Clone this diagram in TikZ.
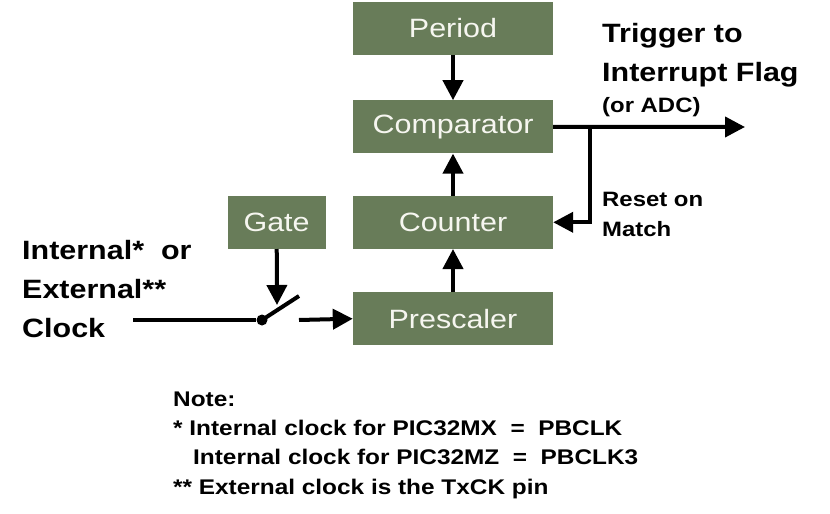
\documentclass[tikz,border=0pt]{standalone}
\usepackage{fontspec}
\setmainfont{Liberation Sans}[FakeStretch=1.15]
\usetikzlibrary{positioning, arrows.meta}

\definecolor{boxgreen}{RGB}{104,124,89}
\definecolor{boxtext}{RGB}{246,246,240}

\begin{document}
\begin{tikzpicture}[x=1pt, y=-1pt,
    % Define styles for the timer blocks
    block/.style={rectangle, fill=boxgreen, text=boxtext, minimum width=200pt, minimum height=53pt, inner sep=0pt, font=\fontsize{26.5}{30}\selectfont},
    % Define styles for the free texts
    big_txt/.style={align=left, anchor=west, inner sep=0pt, font=\bfseries\fontsize{26.5}{39}\selectfont},
    small_txt/.style={align=left, anchor=west, inner sep=0pt, font=\bfseries\fontsize{20.8}{30}\selectfont},
    % Define connector styles
    wire/.style={draw=black, line width=4pt},
    flow/.style={wire, -{Triangle[length=20pt,width=20pt]}}
]

    % --- Page frame ---
    \useasboundingbox[fill=white] (0,0) rectangle (830,514);

    % ================= TIMER CHAIN =================
    \node[block] (Period) at (453,28.5) {Period};
    \node[block, below=45pt of Period] (Comparator) {Comparator};
    \node[block, below=42pt of Comparator] (Counter) {Counter};
    \node[block, below=43pt of Counter] (Prescaler) {Prescaler};
    \node[block, minimum width=98pt, left=27pt of Counter] (Gate) {Gate};

    \draw[flow] (Period) -- (Comparator);
    \draw[flow] (Counter) -- (Comparator);
    \draw[flow] (Prescaler) -- (Counter);

    % ================= OUTPUT AND RESET =================
    \coordinate (trig) at (745,127);
    \coordinate (tap) at (590,127);
    \draw[flow] (Comparator.east) -- (trig);
    \draw[flow] (tap) |- (Counter.east);

    \node[big_txt] (trigtxt) at (602,55) {Trigger to\\Interrupt Flag};
    \node[small_txt] (adc) at (602,107) {(or ADC)};
    \node[small_txt] (resettxt) at (602,214) {Reset on\\Match};

    % ================= CLOCK INPUT AND SWITCH =================
    \node[big_txt] (clocktxt) at (22,289) {Internal*~ or\\External**\\Clock};
    \coordinate (clkin) at (133,320);
    \node[circle, fill=black, inner sep=0pt, minimum size=11pt] (pivot) at (262,320) {};
    \coordinate (lever) at (299,296);
    \coordinate (gtip) at (277,305);
    \coordinate (swout) at (299,320);

    \draw[wire] (clkin) -- (pivot);
    \draw[wire] (pivot.center) -- (lever);
    \draw[flow] (Gate) -- (gtip);
    \draw[flow] (swout) -- (Prescaler.west);

    % ================= NOTE =================
    \node[small_txt, font=\bfseries\fontsize{21.2}{29.3}\selectfont] (note) at (173,445)
        {Note:\\* Internal clock for PIC32MX~ =~ PBCLK\\\hspace*{20pt}Internal clock for PIC32MZ~ =~ PBCLK3\\** External clock is the TxCK pin};

\end{tikzpicture}
\end{document}
